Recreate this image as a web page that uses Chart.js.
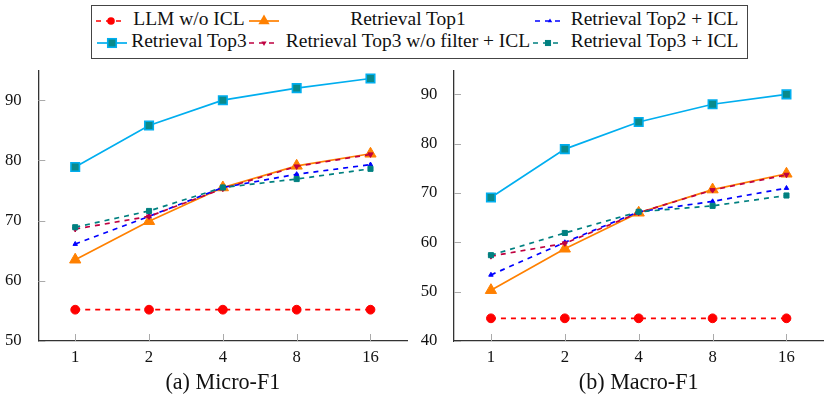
<!DOCTYPE html>
<html><head><meta charset="utf-8">
<script src="https://cdn.jsdelivr.net/npm/chart.js@4.4.1/dist/chart.umd.min.js"></script>
<style>
html,body{margin:0;padding:0;background:#fff;}
body{width:831px;height:401px;position:relative;overflow:hidden;font-family:"Liberation Serif","DejaVu Serif","Liberation Sans",sans-serif;}
#legendBox{position:absolute;left:91px;top:5px;width:657px;height:54px;border:1px solid #444;box-sizing:border-box;}
.lt{position:absolute;line-height:22px;height:22px;text-align:center;white-space:nowrap;color:#111;}
.li{position:absolute;width:30px;height:14px;}
#c1{position:absolute;left:0;top:60px;}
#c2{position:absolute;left:415px;top:60px;}
</style></head>
<body>
<div id="legendBox"></div>
<div id="legend"></div>
<canvas id="c1" width="415" height="341"></canvas>
<canvas id="c2" width="416" height="341"></canvas>
<script>
// ---- data ----
const xLabels = ['1', '2', '4', '8', '16'];
const seriesNames = ['LLM w/o ICL', 'Retrieval Top1', 'Retrieval Top2 + ICL', 'Retrieval Top3', 'Retrieval Top3 w/o filter + ICL', 'Retrieval Top3 + ICL'];

const microLLM = [55.2, 55.2, 55.2, 55.2, 55.2];
const microTop1 = [63.5, 69.9, 75.5, 79.1, 81.1];
const microTop2ICL = [66.1, 70.7, 75.5, 77.7, 79.3];
const microTop3 = [78.9, 85.8, 90.0, 92.0, 93.6];
const microTop3NoFilterICL = [68.6, 70.7, 75.3, 79.0, 81.0];
const microTop3ICL = [68.9, 71.6, 75.5, 76.9, 78.6];

const macroLLM = [44.6, 44.6, 44.6, 44.6, 44.6];
const macroTop1 = [50.3, 58.7, 66.0, 70.7, 73.9];
const macroTop2ICL = [53.4, 60.0, 66.2, 68.3, 71.0];
const macroTop3 = [69.1, 78.9, 84.4, 88.0, 90.0];
const macroTop3NoFilterICL = [57.2, 59.8, 66.0, 70.6, 73.7];
const macroTop3ICL = [57.4, 61.9, 66.2, 67.4, 69.5];

const microTicks = [50, 60, 70, 80, 90];
const macroTicks = [40, 50, 60, 70, 80, 90];
const microRange = [50, 94.9];
const macroRange = [40, 94.8];

const captionMicro = '(a) Micro-F1';
const captionMacro = '(b) Macro-F1';

// ---- fonts: size chosen so text widths match the reference ----
const FONT = '"Liberation Serif", "DejaVu Serif", "Liberation Sans", sans-serif';
const mctx = document.createElement('canvas').getContext('2d');
function fitSize(text, target) {
  mctx.font = '100px ' + FONT;
  return 100 * target / mctx.measureText(text).width;
}
const legendSize = fitSize('Retrieval Top3 w/o filter + ICL', 245);
const tickSize = fitSize('16', 16.7);
const captionSize = fitSize('(a) Micro-F1', 115);

// ---- styles ----
const CYAN = '#00AEEF', TEAL = '#0A8A8C', ORANGE = '#FF8000', RED = '#FF0000', BLUE = '#0000FF', PURPLE = '#BF0040', TEAL2 = '#008080';
const DASH = [5, 5];
const styles = [
  {color: RED, fill: RED, dash: DASH, point: 'circle', r: 4.4, rot: 0, bw: 1},
  {color: ORANGE, fill: ORANGE, dash: [], point: 'triangle', r: 6.5, rot: 0, bw: 1},
  {color: BLUE, fill: BLUE, dash: DASH, point: 'triangle', r: 2.6, rot: 0, bw: 1},
  {color: CYAN, fill: TEAL, dash: [], point: 'rect', r: 6, rot: 0, bw: 1.6},
  {color: PURPLE, fill: PURPLE, dash: DASH, point: 'triangle', r: 3, rot: 180, bw: 1},
  {color: TEAL2, fill: TEAL2, dash: DASH, point: 'rect', r: 3.6, rot: 0, bw: 1}
];

function makeDatasets(arrs) {
  return arrs.map((d, i) => ({
    label: seriesNames[i],
    data: d,
    borderColor: styles[i].color,
    backgroundColor: styles[i].fill,
    borderWidth: 1.7,
    borderDash: styles[i].dash,
    pointStyle: styles[i].point,
    pointRadius: styles[i].r,
    pointRotation: styles[i].rot,
    pointBorderColor: styles[i].color,
    pointBackgroundColor: styles[i].fill,
    pointBorderWidth: styles[i].bw,
    tension: 0,
    fill: false,
    order: arrs.length - i,
    clip: false
  }));
}

const innerTicks = {
  id: 'innerTicks',
  beforeDatasetsDraw(chart) {
    const {ctx, chartArea} = chart;
    const xs = chart.scales.x, ys = chart.scales.y;
    ctx.save();
    ctx.strokeStyle = '#aaaaaa';
    ctx.lineWidth = 1;
    ctx.beginPath();
    xs.ticks.forEach((t, i) => {
      const p = Math.round(xs.getPixelForTick(i)) + 0.5;
      ctx.moveTo(p, chartArea.bottom);
      ctx.lineTo(p, chartArea.bottom - 7);
    });
    ys.ticks.forEach((t) => {
      const p = Math.round(ys.getPixelForValue(t.value)) + 0.5;
      ctx.moveTo(chartArea.left, p);
      ctx.lineTo(chartArea.left + 7, p);
    });
    ctx.stroke();
    ctx.restore();
  }
};

function zeroPad(s) { s.paddingTop = 0; s.paddingBottom = 0; s.paddingLeft = 0; s.paddingRight = 0; }

function makeChart(id, arrs, ticks, range, caption, yWidth, padRight) {
  return new Chart(document.getElementById(id), {
    type: 'line',
    data: {labels: xLabels, datasets: makeDatasets(arrs)},
    plugins: [innerTicks],
    options: {
      responsive: false,
      animation: false,
      layout: {padding: {top: 10.7, right: padRight, left: 0, bottom: 0}},
      plugins: {legend: {display: false}, tooltip: {enabled: false}, title: {display: false}},
      scales: {
        x: {
          type: 'category',
          offset: true,
          grid: {display: false, drawOnChartArea: false, drawTicks: false},
          border: {display: true, color: '#333', width: 1.3},
          ticks: {color: '#111', padding: 7, font: {family: FONT, size: tickSize}, maxRotation: 0},
          title: {display: true, text: caption, color: '#111', font: {family: FONT, size: captionSize}, padding: {top: 0, bottom: 4.5}},
          afterFit(s) { s.height = 60; zeroPad(s); }
        },
        y: {
          type: 'linear',
          min: range[0], max: range[1],
          grid: {display: false, drawOnChartArea: false, drawTicks: false},
          border: {display: true, color: '#333', width: 1.3},
          ticks: {color: '#111', padding: 16.6, font: {family: FONT, size: tickSize}, includeBounds: false},
          afterBuildTicks(s) { s.ticks = ticks.map(v => ({value: v})); },
          afterFit(s) { s.width = yWidth; zeroPad(s); }
        }
      }
    }
  });
}

makeChart('c1', [microLLM, microTop1, microTop2ICL, microTop3, microTop3NoFilterICL, microTop3ICL], microTicks, microRange, captionMicro, 38.3, 5);
makeChart('c2', [macroLLM, macroTop1, macroTop2ICL, macroTop3, macroTop3NoFilterICL, macroTop3ICL], macroTicks, macroRange, captionMacro, 39, 6);

// ---- legend (HTML) ----
function iconSvg(s) {
  let marker = '';
  const cx = 15, cy = 7;
  if (s.point === 'circle') marker = `<circle cx="${cx}" cy="${cy}" r="3.8" fill="${s.fill}"/>`;
  else if (s.point === 'rect') {
    const h = s.r * 0.707;
    marker = `<rect x="${cx - h}" y="${cy - h}" width="${2 * h}" height="${2 * h}" fill="${s.fill}" stroke="${s.color}" stroke-width="${s.bw}"/>`;
  } else if (s.point === 'triangle') {
    const r = s.r;
    const dy = s.rot ? -1 : 1;
    marker = `<polygon points="${cx},${cy - dy * r} ${cx - 0.866 * r},${cy + dy * r / 2} ${cx + 0.866 * r},${cy + dy * r / 2}" fill="${s.fill}"/>`;
  }
  const dash = s.dash.length ? `stroke-dasharray="5 5" stroke-dashoffset="0"` : '';
  return `<svg width="30" height="14" xmlns="http://www.w3.org/2000/svg"><line x1="0" y1="${cy}" x2="30" y2="${cy}" stroke="${s.color}" stroke-width="1.7" ${dash}/>${marker}</svg>`;
}
const legendLayout = [
  {icon: 96, tx: 131, tw: 116, row: 0},
  {icon: 249, tx: 285, tw: 246, row: 0},
  {icon: 535, tx: 570, tw: 169, row: 0},
  {icon: 97, tx: 131, tw: 116, row: 1},
  {icon: 249, tx: 285, tw: 246, row: 1},
  {icon: 533, tx: 570, tw: 169, row: 1}
];
const lg = document.getElementById('legend');
legendLayout.forEach((p, i) => {
  const ic = document.createElement('div');
  ic.className = 'li';
  ic.style.left = p.icon + 'px';
  ic.style.top = (p.row ? 35.5 : 13.5) + 'px';
  ic.innerHTML = iconSvg(styles[i]);
  lg.appendChild(ic);
  const t = document.createElement('div');
  t.className = 'lt';
  t.style.fontSize = legendSize + 'px';
  t.style.left = p.tx + 'px';
  t.style.width = p.tw + 'px';
  t.style.top = (p.row ? 30.2 : 8.4) + 'px';
  t.textContent = seriesNames[i];
  lg.appendChild(t);
});
</script>
</body></html>
